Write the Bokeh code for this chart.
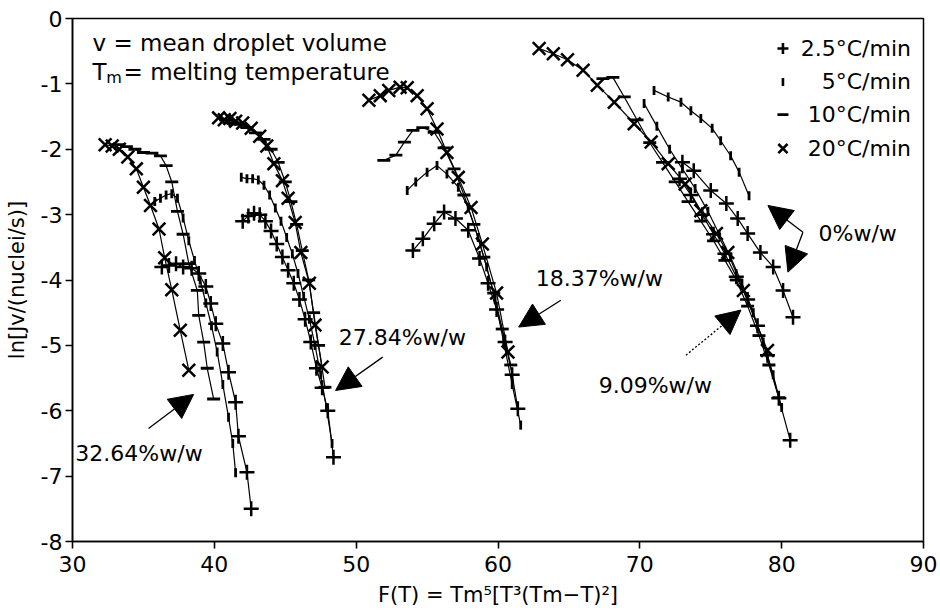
import numpy as np
from bokeh.plotting import figure
from bokeh.models import Range1d, FixedTicker, Arrow, NormalHead, Label
from bokeh.embed import file_html
from bokeh.resources import INLINE

# ---------------- data ----------------
# 32.64 % w/w
X_3264_R20 = [32.3, 32.8, 33.3, 33.9, 34.5, 35.0, 35.5, 36.1, 36.5, 37.0, 37.6, 38.2]
Y_3264_R20 = [-1.93, -1.95, -2.0, -2.12, -2.3, -2.58, -2.86, -3.22, -3.66, -4.15, -4.77, -5.38]
X_3264_R10 = [33.2, 33.8, 34.4, 35.0, 35.6, 36.2, 36.6, 37.0, 37.4, 37.8, 38.2, 38.8, 38.9, 39.25, 39.5, 39.95]
Y_3264_R10 = [-1.93, -1.96, -2.0, -2.05, -2.06, -2.1, -2.25, -2.5, -2.95, -3.3, -3.75, -4.16, -4.54, -4.95, -5.35, -5.82]
X_3264_R5 = [35.8, 36.2, 36.6, 37.0, 37.4, 37.8, 38.2, 38.6, 39.0, 39.4, 39.8, 40.2, 40.6, 41.0, 41.3, 41.5]
Y_3264_R5 = [-2.8, -2.75, -2.7, -2.68, -2.75, -3.05, -3.4, -3.7, -4.0, -4.35, -4.7, -5.1, -5.6, -6.1, -6.5, -6.95]
X_3264_R25 = [36.3, 36.8, 37.3, 37.8, 38.4, 38.9, 39.4, 39.75, 40.1, 40.6, 41.0, 41.5, 41.7, 42.3, 42.6]
Y_3264_R25 = [-3.8, -3.78, -3.75, -3.8, -3.82, -3.9, -4.1, -4.36, -4.67, -4.97, -5.41, -5.87, -6.39, -6.94, -7.5]

# 27.84 % w/w
X_2784_R20 = [40.3, 40.7, 41.1, 41.5, 42.0, 42.6, 43.2, 43.7, 44.2, 44.8, 45.2, 45.7, 46.1, 46.7, 47.1, 47.6]
Y_2784_R20 = [-1.52, -1.55, -1.53, -1.57, -1.6, -1.68, -1.8, -1.95, -2.22, -2.48, -2.75, -3.12, -3.58, -4.05, -4.69, -5.33]
X_2784_R10 = [40.8, 41.3, 41.8, 42.3, 42.9, 43.5, 44.0, 44.5, 45.0, 45.4, 45.8, 46.2, 46.65, 47.0, 47.35, 47.8]
Y_2784_R10 = [-1.55, -1.6, -1.62, -1.67, -1.75, -1.85, -2.0, -2.2, -2.5, -2.8, -3.15, -3.55, -4.0, -4.5, -5.0, -5.64]
X_2784_R5 = [41.9, 42.3, 42.7, 43.1, 43.5, 43.9, 44.3, 44.7, 45.1, 45.5, 45.9, 46.3, 46.7, 47.1, 47.5, 47.9, 48.3]
Y_2784_R5 = [-2.43, -2.45, -2.45, -2.47, -2.55, -2.7, -2.9, -3.1, -3.35, -3.6, -3.9, -4.25, -4.6, -5.0, -5.45, -5.95, -6.5]
X_2784_R25 = [42.0, 42.4, 42.8, 43.2, 43.6, 44.0, 44.4, 44.8, 45.2, 45.6, 46.0, 46.4, 46.8, 47.2, 47.6, 48.0, 48.4]
Y_2784_R25 = [-3.1, -3.02, -2.98, -3.0, -3.1, -3.25, -3.45, -3.65, -3.85, -4.05, -4.3, -4.6, -4.95, -5.35, -5.65, -6.0, -6.71]

# 18.37 % w/w
X_1837_R20 = [50.9, 51.7, 52.3, 53.1, 53.6, 54.3, 55.0, 55.7, 56.4, 57.2, 58.1, 58.9, 59.9, 60.7]
Y_1837_R20 = [-1.25, -1.18, -1.1, -1.05, -1.06, -1.18, -1.38, -1.69, -2.05, -2.43, -2.89, -3.45, -4.2, -5.1]
X_1837_R10 = [51.95, 52.8, 53.4, 54.0, 54.7, 55.5, 56.2, 56.9, 57.6, 58.3, 59.0, 59.7, 60.3, 60.9]
Y_1837_R10 = [-2.17, -2.09, -1.89, -1.71, -1.67, -1.74, -1.98, -2.3, -2.7, -3.15, -3.65, -4.2, -4.75, -5.3]
X_1837_R5 = [53.6, 54.2, 55.0, 55.7, 56.4, 57.2, 57.9, 58.6, 59.2, 59.8, 60.4, 61.0, 61.6]
Y_1837_R5 = [-2.63, -2.5, -2.35, -2.25, -2.38, -2.58, -2.9, -3.35, -3.8, -4.3, -4.95, -5.6, -6.22]
X_1837_R25 = [54.0, 54.7, 55.5, 56.2, 57.0, 57.9, 58.7, 59.3, 59.9, 60.5, 61.0, 61.4]
Y_1837_R25 = [-3.55, -3.37, -3.14, -2.96, -3.06, -3.24, -3.67, -4.05, -4.45, -4.95, -5.45, -5.97]

# 9.09 % w/w
X_0909_R20 = [62.9, 63.9, 64.9, 66.0, 67.0, 68.2, 69.6, 70.8, 72.0, 73.2, 74.3, 75.4, 76.2, 77.3, 79.0]
Y_0909_R20 = [-0.46, -0.54, -0.63, -0.79, -1.02, -1.28, -1.61, -1.89, -2.22, -2.53, -2.94, -3.29, -3.58, -4.16, -5.08]
X_0909_R10 = [67.4, 68.1, 68.9, 69.8, 70.7, 71.6, 72.5, 73.4, 74.3, 75.2, 76.0, 76.8, 77.6, 78.4, 79.1, 79.8]
Y_0909_R10 = [-0.92, -0.9, -1.2, -1.55, -1.9, -2.2, -2.5, -2.8, -3.1, -3.4, -3.7, -4.0, -4.4, -4.85, -5.3, -5.8]
X_0909_R5 = [70.3, 71.2, 72.1, 73.0, 73.9, 74.8, 75.6, 76.4, 77.2, 78.0, 78.7, 79.4, 80.0]
Y_0909_R5 = [-1.3, -1.65, -2.0, -2.3, -2.6, -2.95, -3.3, -3.65, -4.05, -4.5, -4.95, -5.45, -5.95]
X_0909_R25 = [72.8, 73.6, 74.4, 75.2, 76.0, 76.8, 77.6, 78.3, 79.0, 79.8, 80.6]
Y_0909_R25 = [-2.45, -2.7, -3.0, -3.3, -3.6, -3.95, -4.3, -4.7, -5.15, -5.81, -6.45]

# 0 % w/w
X_0000_R5 = [71.0, 72.0, 72.9, 73.6, 74.3, 75.1, 75.7, 76.4, 77.0, 77.7]
Y_0000_R5 = [-1.1, -1.2, -1.28, -1.41, -1.53, -1.68, -1.87, -2.1, -2.35, -2.71]
X_0000_R25 = [73.0, 73.8, 75.0, 76.1, 76.9, 77.6, 78.5, 79.4, 80.1, 80.8]
Y_0000_R25 = [-2.2, -2.33, -2.63, -2.83, -3.06, -3.29, -3.58, -3.8, -4.16, -4.57]

RATE_LABELS = ["2.5\u00b0C/min", "5\u00b0C/min", "10\u00b0C/min", "20\u00b0C/min"]
GROUP_LABELS = ["32.64%w/w", "27.84%w/w", "18.37%w/w", "9.09%w/w", "0%w/w"]
X_TICKS = [30, 40, 50, 60, 70, 80, 90]
Y_TICKS = [-8, -7, -6, -5, -4, -3, -2, -1, 0]

FONT = "DejaVu Sans"

# ---------------- figure ----------------
p = figure(width=940, height=613, x_range=Range1d(30, 90), y_range=Range1d(-8, 0),
           output_backend="svg", toolbar_location=None,
           min_border_left=72, min_border_right=17, min_border_top=18, min_border_bottom=72)
p.xgrid.visible = False
p.ygrid.visible = False
p.outline_line_color = "black"
p.outline_line_width = 1.5
p.background_fill_color = "white"
p.border_fill_color = "white"

for ax in (p.xaxis[0], p.yaxis[0]):
    ax.axis_line_width = 1.6
    ax.major_tick_line_width = 1.6
    ax.major_tick_out = 7
    ax.major_tick_in = 0
    ax.minor_tick_line_color = None
    ax.major_label_text_font = FONT
    ax.major_label_text_font_size = "22px"
    ax.major_label_text_color = "black"
    ax.axis_label_text_font = FONT
    ax.axis_label_text_font_size = "21px"
    ax.axis_label_text_font_style = "normal"
    ax.axis_label_text_color = "black"

p.xaxis.ticker = FixedTicker(ticks=X_TICKS)
p.yaxis.ticker = FixedTicker(ticks=Y_TICKS)
p.xaxis.major_label_overrides = {t: str(t) for t in X_TICKS}
p.yaxis.major_label_overrides = {t: str(t) for t in Y_TICKS}
p.xaxis.major_label_standoff = 7
p.yaxis.major_label_standoff = 3
p.xaxis.axis_label = "F(T) = Tm\u2075[T\u00b3(Tm\u2212T)\u00b2]"
p.yaxis.axis_label = "ln[Jv/(nuclei/s)]"
p.xaxis.axis_label_standoff = 8
p.yaxis.axis_label_standoff = 9

STYLE = {
    "25": dict(marker="cross", size=15, angle=0.0, line_width=2.5),
    "5": dict(marker="dash", size=9, angle=np.pi / 2, line_width=2.8),
    "10": dict(marker="dash", size=13, angle=0.0, line_width=2.8),
    "20": dict(marker="x", size=18, angle=0.0, line_width=2.5),
}

series = [
    (X_3264_R20, Y_3264_R20, "20"), (X_3264_R10, Y_3264_R10, "10"),
    (X_3264_R5, Y_3264_R5, "5"), (X_3264_R25, Y_3264_R25, "25"),
    (X_2784_R20, Y_2784_R20, "20"), (X_2784_R10, Y_2784_R10, "10"),
    (X_2784_R5, Y_2784_R5, "5"), (X_2784_R25, Y_2784_R25, "25"),
    (X_1837_R20, Y_1837_R20, "20"), (X_1837_R10, Y_1837_R10, "10"),
    (X_1837_R5, Y_1837_R5, "5"), (X_1837_R25, Y_1837_R25, "25"),
    (X_0909_R20, Y_0909_R20, "20"), (X_0909_R10, Y_0909_R10, "10"),
    (X_0909_R5, Y_0909_R5, "5"), (X_0909_R25, Y_0909_R25, "25"),
    (X_0000_R5, Y_0000_R5, "5"), (X_0000_R25, Y_0000_R25, "25"),
]

for xs, ys, rate in series:
    p.line(xs, ys, line_color="black", line_width=1.2)
    st = STYLE[rate]
    p.scatter(xs, ys, marker=st["marker"], size=st["size"], angle=st["angle"],
              line_color="black", fill_color="black", line_width=st["line_width"])

# ---------------- legend (drawn by hand like the original) ----------------
LEG_X = 80.09
LEG_TEXT_X = 89.12
LEG_Y = [-0.46, -0.97, -1.47, -1.99]
LEG_KEYS = ["25", "5", "10", "20"]
LEG_SIZES = {"25": 11, "5": 8, "10": 11, "20": 13}
for key, ly, lab in zip(LEG_KEYS, LEG_Y, RATE_LABELS):
    st = STYLE[key]
    p.scatter([LEG_X], [ly], marker=st["marker"], size=LEG_SIZES[key], angle=st["angle"],
              line_color="black", line_width=2.6)
    p.add_layout(Label(x=LEG_TEXT_X, y=ly, text=lab, text_align="right", text_baseline="middle",
                       text_font=FONT, text_font_size="22px", text_color="black"))

# ---------------- notes ----------------
p.add_layout(Label(x=31.41, y=-0.382, text="v = mean droplet volume", text_baseline="alphabetic",
                   text_font=FONT, text_font_size="23px", text_color="black"))
p.add_layout(Label(x=31.41, y=-0.826, text="T", text_baseline="alphabetic",
                   text_font=FONT, text_font_size="23px", text_color="black"))
p.add_layout(Label(x=32.38, y=-0.90, text="m", text_baseline="alphabetic",
                   text_font=FONT, text_font_size="16px", text_color="black"))
p.add_layout(Label(x=33.6, y=-0.826, text="= melting temperature", text_baseline="alphabetic",
                   text_font=FONT, text_font_size="23px", text_color="black"))

# ---------------- group labels and arrows ----------------
group_text_pos = [(30.2, -6.65), (48.77, -4.88), (62.66, -3.98), (67.1, -5.61), (82.6, -3.29)]
for (tx, ty), lab in zip(group_text_pos, GROUP_LABELS):
    p.add_layout(Label(x=tx, y=ty, text=lab, text_baseline="middle",
                       text_font=FONT, text_font_size="22px", text_color="black"))

arrows = [
    ((35.36, -6.27), (38.54, -5.75), "solid"),
    ((51.87, -5.18), (48.55, -5.69), "solid"),
    ((64.43, -4.31), (61.46, -4.72), "solid"),
    ((73.25, -5.15), (77.13, -4.46), "2 2"),
    ((81.5, -3.27), (79.03, -2.86), "solid"),
    ((81.5, -3.27), (80.44, -3.88), "solid"),
]
for (x0, y0), (x1, y1), dash in arrows:
    p.add_layout(Arrow(end=NormalHead(size=24, fill_color="black", line_color="black"),
                       x_start=x0, y_start=y0, x_end=x1, y_end=y1,
                       line_color="black", line_width=1.3, line_dash=dash))

open("out.html", "w").write(file_html(p, INLINE))
